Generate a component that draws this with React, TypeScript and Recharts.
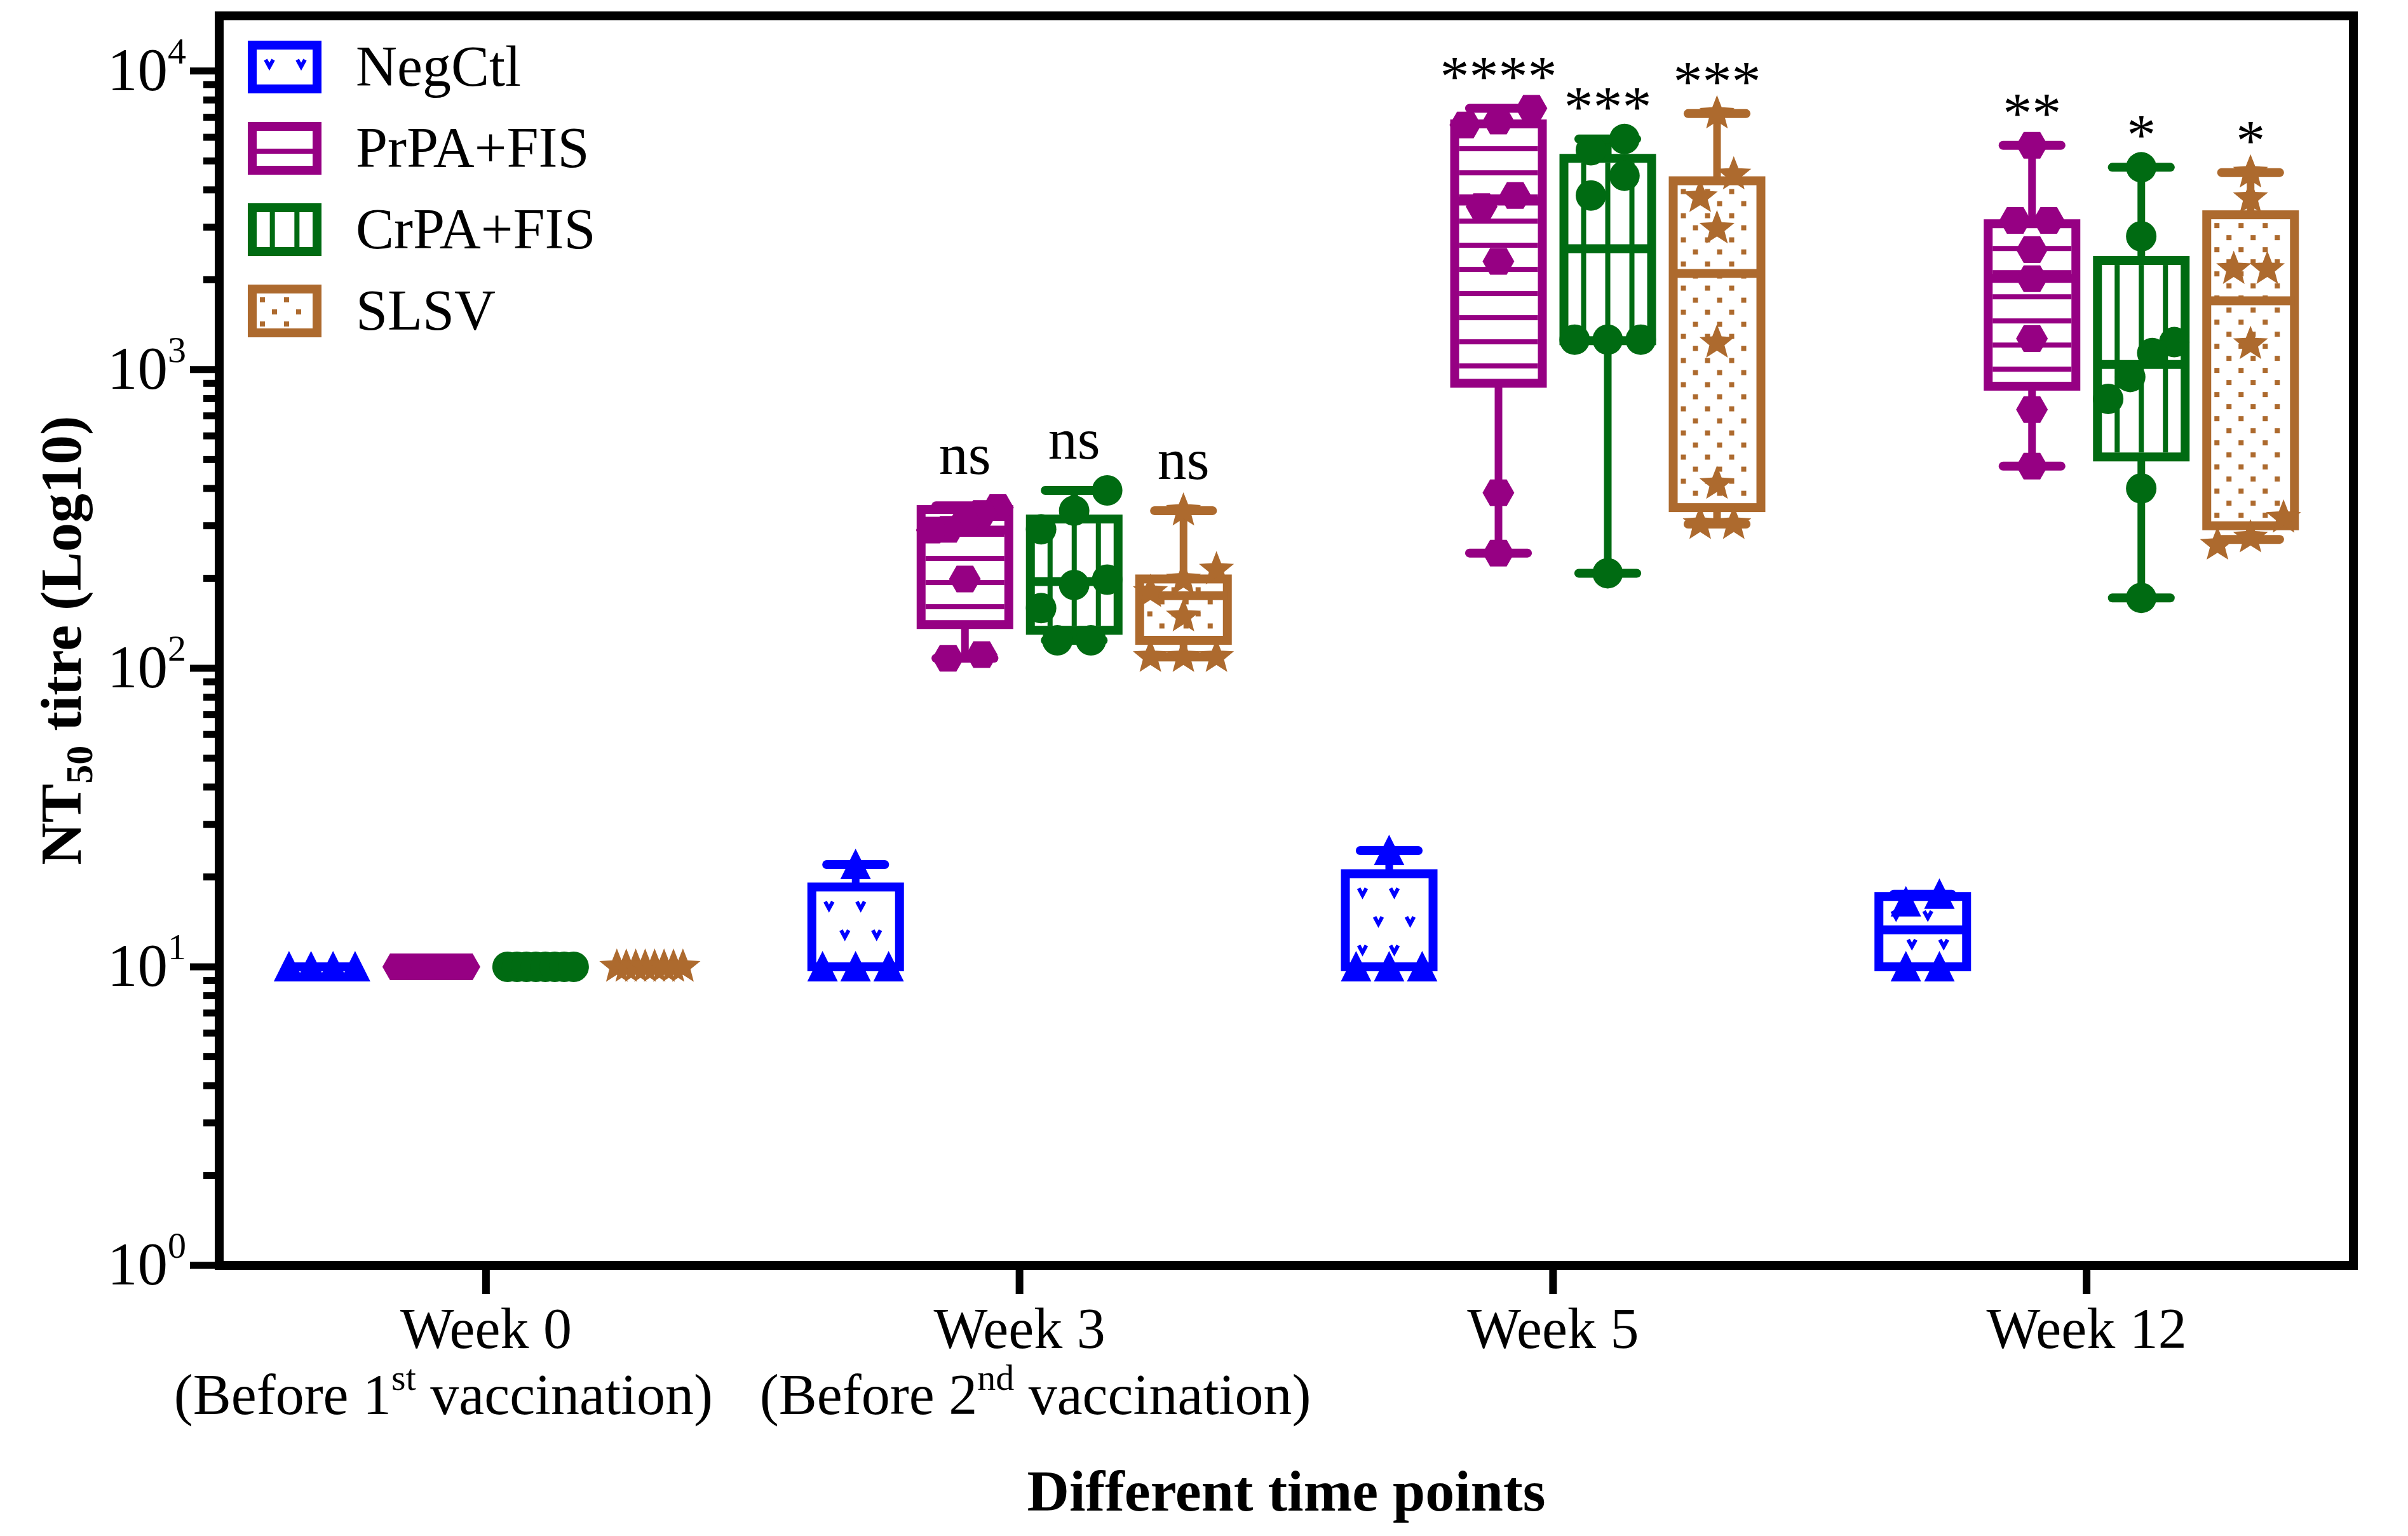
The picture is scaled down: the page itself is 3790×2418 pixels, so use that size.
import { ComposedChart, Bar, Scatter, XAxis, YAxis, Legend, ReferenceArea } from "recharts";

/* ---------- values ---------- */

const weeks = ["Week 0", "Week 3", "Week 5", "Week 12"];
const doseNo = ["1", "2", "", ""];
const doseSuffix = ["st", "nd", "", ""];

const groupNames = ["NegCtl", "PrPA+FIS", "CrPA+FIS", "SLSV"];

// per week: [min, Q1, median, Q3, max]
const negCtlBox = [
  [10, 10, 10, 10, 10],
  [10, 10, 10, 18.5, 22],
  [10, 10, 10, 20.5, 24.5],
  [10, 10, 13.3, 17.2, 17.5],
];
const prpaBox = [
  [10, 10, 10, 10, 10],
  [108, 140, 290, 340, 350],
  [243, 900, 3670, 6650, 7500],
  [475, 880, 2020, 3080, 5640],
];
const crpaBox = [
  [10, 10, 10, 10, 10],
  [124, 134, 195, 316, 394],
  [208, 1250, 2540, 5100, 5920],
  [172, 510, 1040, 2320, 4760],
];
const slsvBox = [
  [10, 10, 10, 10, 10],
  [109, 124, 175, 199, 337],
  [304, 345, 2100, 4290, 7200],
  [270, 300, 1700, 3300, 4570],
];

// individual animals per week
const negCtlPts = [
  [10, 10, 10, 10],
  [10, 10, 10, 22],
  [10, 10, 10, 24.5],
  [10, 10, 16.5, 17.5],
];
const prpaPts = [
  [10, 10, 10, 10, 10, 10, 10, 10],
  [345, 330, 310, 292, 290, 199, 111, 108],
  [7500, 6800, 6600, 3830, 3515, 2305, 387, 243],
  [5640, 3160, 3160, 2523, 2016, 1270, 735, 475],
];
const crpaPts = [
  [10, 10, 10, 10, 10, 10, 10, 10],
  [394, 337, 292, 198, 190, 159, 124, 124],
  [5920, 5430, 4460, 3830, 1260, 1260, 1260, 208],
  [4760, 2795, 1236, 1136, 945, 798, 400, 172],
];
const slsvPts = [
  [10, 10, 10, 10, 10, 10, 10, 10],
  [337, 214, 198, 180, 149, 109, 109, 109],
  [7200, 4500, 3780, 2967, 1230, 414, 304, 304],
  [4570, 3750, 2172, 2172, 1217, 319, 274, 259],
];

// significance vs NegCtl
const negCtlSig = ["", "", "", ""];
const prpaSig = ["", "ns", "****", "**"];
const crpaSig = ["", "ns", "***", "*"];
const slsvSig = ["", "ns", "***", "*"];

const yMajor = [1, 10, 100, 1000, 10000];
const yDomain = [1, 15300];

/* ---------- styling ---------- */

const FONT = "'Liberation Serif', 'Times New Roman', serif";
const BOX_W = 152;
const BOX_GAP = 20;
const STROKE = 14;
const AXIS_W = 14;
const MARK_W = 48;
const noteDx = [-67, 25, 0, 0];

const groups = [
  { name: groupNames[0], color: "#0000ff", marker: "triangle", hatch: "ticks", box: negCtlBox, pts: negCtlPts, sig: negCtlSig },
  { name: groupNames[1], color: "#960083", marker: "hexagon", hatch: "hlines", box: prpaBox, pts: prpaPts, sig: prpaSig },
  { name: groupNames[2], color: "#006b12", marker: "circle", hatch: "vlines", box: crpaBox, pts: crpaPts, sig: crpaSig },
  { name: groupNames[3], color: "#ad6a2e", marker: "star", hatch: "dots", box: slsvBox, pts: slsvPts, sig: slsvSig },
];

const rows = weeks.map((week, i) => ({ week, i }));

const yTicks = yMajor.flatMap((d) =>
  d === 10000 ? [d] : [1, 2, 3, 4, 5, 6, 7, 8, 9].map((m) => m * d)
);

// horizontal offset of each box inside its week, same as recharts' grouped bar layout
const shift = (gi: number) => (gi - 1.5) * (BOX_W + BOX_GAP);

// stat accessor that tolerates rows recharts may probe without an index
const stat = (g: any, r: any, k: number) => {
  const b = r && g.box[r.i];
  return b ? b[k] : undefined;
};

// fan out points that would sit on top of each other (like a column scatter)
function spread(values: number[]) {
  const order = values.map((v, k) => ({ v, k })).sort((a, b) => a.v - b.v);
  const out = new Array(values.length).fill(0);
  let start = 0;
  for (let j = 1; j <= order.length; j++) {
    const gap = j < order.length ? Math.log10(order[j].v) - Math.log10(order[j - 1].v) : Infinity;
    if (gap > 0.08) {
      const n = j - start;
      const step = n > 1 ? Math.min(MARK_W * 1.1, (BOX_W - MARK_W) / (n - 1)) : 0;
      for (let m = start; m < j; m++) out[order[m].k] = (m - start - (n - 1) / 2) * step;
      start = j;
    }
  }
  return out;
}

const pointRows = (g: any) =>
  weeks.flatMap((_, w) => {
    const dx = spread(g.pts[w]);
    return g.pts[w].map((v: number, k: number) => ({ x: w, y: v, dx: dx[k] }));
  });

/* ---------- drawing helpers ---------- */

function hatch(kind: string, x: number, y: number, w: number, h: number, color: string) {
  const out: any[] = [];
  if (!(w > 0) || !(h > 0)) return out;
  if (kind === "hlines") {
    for (let yy = y + 32; yy < y + h - 6; yy += 38)
      out.push(<rect key={"h" + yy} x={x} y={yy - 4} width={w} height={8} fill={color} />);
  } else if (kind === "vlines") {
    const n = Math.round((w + 2 * STROKE) / 38);
    for (let k = 1; k < n; k++)
      out.push(<rect key={"v" + k} x={x - STROKE + ((w + 2 * STROKE) * k) / n - 4} y={y} width={8} height={h} fill={color} />);
  } else if (kind === "dots") {
    for (let r = 0; 6 + r * 19 + 8 < h; r++)
      for (let c = 0; 6 + c * 19 + 8 < w; c++)
        if ((r + c) % 2 === 0)
          out.push(<rect key={`d${r}-${c}`} x={x + 5 + c * 19} y={y + 6 + r * 19} width={8} height={8} fill={color} />);
  } else if (kind === "ticks") {
    for (let r = 0; 22 + r * 45 < h - 8; r++)
      for (let c = 0; 20 + c * 50 + (r % 2) * 25 < w - 8; c++) {
        const cx = x + 20 + c * 50 + (r % 2) * 25;
        const cy = y + 22 + r * 45;
        out.push(
          <path key={`t${r}-${c}`} d={`M${cx - 6} ${cy - 6} L${cx} ${cy + 5} L${cx + 6} ${cy - 6}`} stroke={color} strokeWidth={6} fill="none" />
        );
      }
  }
  return out;
}

function marker(kind: string, cx: number, cy: number, color: string) {
  if (!isFinite(cx) || !isFinite(cy)) return <g />;
  if (kind === "triangle")
    return <polygon points={`${cx},${cy - 25} ${cx - 24},${cy + 23} ${cx + 24},${cy + 23}`} fill={color} />;
  if (kind === "hexagon")
    return (
      <polygon
        points={`${cx - 25},${cy} ${cx - 13},${cy - 21} ${cx + 13},${cy - 21} ${cx + 25},${cy} ${cx + 13},${cy + 21} ${cx - 13},${cy + 21}`}
        fill={color}
      />
    );
  if (kind === "circle") return <circle cx={cx} cy={cy} r={24} fill={color} />;
  const pts: string[] = [];
  for (let k = 0; k < 10; k++) {
    const a = -Math.PI / 2 + (k * Math.PI) / 5;
    const r = k % 2 === 0 ? 29 : 12.5;
    pts.push(`${cx + r * Math.cos(a)},${cy + r * Math.sin(a)}`);
  }
  return <polygon points={pts.join(" ")} fill={color} />;
}

function Whisker({ x, y, width, height, payload, g }: any) {
  if (!payload || !isFinite(y) || !isFinite(height)) return <g />;
  const cx = x + width / 2;
  const top = Math.min(y, y + height);
  const bot = Math.max(y, y + height);
  const half = width * 0.3;
  const sig = g.sig[payload.i];
  return (
    <g>
      <line x1={cx} x2={cx} y1={top} y2={bot} stroke={g.color} strokeWidth={12} />
      <line x1={cx - half} x2={cx + half} y1={top} y2={top} stroke={g.color} strokeWidth={14} strokeLinecap="round" />
      <line x1={cx - half} x2={cx + half} y1={bot} y2={bot} stroke={g.color} strokeWidth={14} strokeLinecap="round" />
      {sig && (
        <text x={cx} y={top - (sig[0] === "*" ? 20 : 50)} textAnchor="middle" fontSize={92} fontFamily={FONT} fill="#000">
          {sig}
        </text>
      )}
    </g>
  );
}

function BoxShape({ x, y, width, height, g }: any) {
  const top = Math.min(y, y + height);
  const h = Math.abs(height);
  if (!isFinite(top) || !(h >= 1)) return <g />;
  return (
    <g>
      <rect x={x + STROKE / 2} y={top} width={width - STROKE} height={h} fill="#fff" stroke={g.color} strokeWidth={STROKE} />
      {hatch(g.hatch, x + STROKE, top + STROKE / 2, width - 2 * STROKE, h - STROKE, g.color)}
    </g>
  );
}

function MedianShape({ x, y, width, payload, g }: any) {
  if (!payload || !isFinite(y)) return <g />;
  const b = g.box[payload.i];
  if (!b || b[3] - b[1] <= 0) return <g />;
  return <line x1={x + STROKE / 2} x2={x + width - STROKE / 2} y1={y} y2={y} stroke={g.color} strokeWidth={STROKE} />;
}

function YTick({ x, y, payload }: any) {
  const v = payload.value;
  const major = yMajor.includes(v);
  return (
    <g>
      <line x1={x} x2={x - (major ? 46 : 25)} y1={y} y2={y} stroke="#000" strokeWidth={11} />
      {major && (
        <text x={x - 52} y={y + 30} textAnchor="end" fontSize={95} fontFamily={FONT} fill="#000">
          10
          <tspan dy={-42} fontSize={58}>
            {Math.round(Math.log10(v))}
          </tspan>
        </text>
      )}
    </g>
  );
}

function WeekTick({ x, y, payload }: any) {
  const i = weeks.indexOf(payload.value);
  return (
    <g fontFamily={FONT} fontSize={90} fill="#000">
      <text x={x} y={y + 85} textAnchor="middle">
        {payload.value}
      </text>
      {doseNo[i] && (
        <text x={x + noteDx[i]} y={y + 189} textAnchor="middle">
          (Before {doseNo[i]}
          <tspan dy={-38} fontSize={58}>
            {doseSuffix[i]}
          </tspan>
          <tspan dy={38}> vaccination)</tspan>
        </text>
      )}
    </g>
  );
}

function YTitle() {
  return (
    <text
      x={127}
      y={1008}
      transform="rotate(-90, 127, 1008)"
      textAnchor="middle"
      fontSize={92}
      fontWeight="bold"
      fontFamily={FONT}
      fill="#000"
    >
      NT
      <tspan dy={18} fontSize={60}>
        50
      </tspan>
      <tspan dy={-18}> titre (Log10)</tspan>
    </text>
  );
}

function LegendBox() {
  return (
    <svg width={720} height={520} style={{ fontFamily: FONT }}>
      {groups.map((g, k) => {
        const cy = 65 + k * 128;
        const top = cy - 41;
        return (
          <g key={g.name}>
            <rect x={12} y={top + 7} width={102} height={69} fill="#fff" stroke={g.color} strokeWidth={STROKE} />
            {hatch(g.hatch, 19, top + 14, 88, 55, g.color)}
            <text x={175} y={cy + 30} fontSize={90} fill="#000">
              {g.name}
            </text>
          </g>
        );
      })}
    </svg>
  );
}

export default function App() {
  return (
    <div style={{ width: 3790, height: 2418, background: "#fff", fontFamily: FONT }}>
      <style>{"body{margin:0}"}</style>
      <ComposedChart
        width={3790}
        height={2418}
        data={rows}
        margin={{ top: 25, right: 86, bottom: 26, left: 0 }}
        barGap={BOX_GAP}
      >
        <XAxis
          xAxisId="week"
          dataKey="week"
          type="category"
          height={400}
          interval={0}
          tickSize={45}
          tickMargin={0}
          axisLine={{ stroke: "#000", strokeWidth: AXIS_W }}
          tickLine={{ stroke: "#000", strokeWidth: 12 }}
          tick={<WeekTick />}
          label={{
            value: "Different time points",
            position: "insideBottom",
            offset: 14,
            fontSize: 92,
            fontWeight: "bold",
            fill: "#000",
            fontFamily: FONT,
          }}
        />
        <XAxis xAxisId="whisker" dataKey="week" type="category" height={0} hide />
        <XAxis xAxisId="median" dataKey="week" type="category" height={0} hide />
        <XAxis xAxisId="pts" dataKey="x" type="number" domain={[-0.5, 3.5]} height={0} hide />
        <YAxis
          scale="log"
          domain={yDomain}
          allowDataOverflow
          ticks={yTicks}
          interval={0}
          width={345}
          tickSize={0}
          tickMargin={0}
          tickLine={false}
          axisLine={{ stroke: "#000", strokeWidth: AXIS_W }}
          tick={<YTick />}
          label={<YTitle />}
        />
        {/* same log scale for the individual points, kept on its own id */}
        <YAxis yAxisId="ptsY" scale="log" domain={yDomain} allowDataOverflow width={0} hide />

        <ReferenceArea xAxisId="week" y1={yDomain[0]} y2={yDomain[1]} fill="none" stroke="#000" strokeWidth={AXIS_W} ifOverflow="visible" />

        <Legend
          content={<LegendBox />}
          layout="vertical"
          align="center"
          verticalAlign="middle"
          wrapperStyle={{ left: 385, top: 40, width: 720, height: 520 }}
        />

        {groups.map((g) => (
          <Bar
            key={"whisker-" + g.name}
            xAxisId="whisker"
            dataKey={(r: any) => {
              const lo = stat(g, r, 0);
              return lo === undefined ? undefined : [lo, stat(g, r, 4)];
            }}
            barSize={BOX_W}
            isAnimationActive={false}
            shape={(p: any) => <Whisker {...p} g={g} />}
          />
        ))}
        {groups.map((g) => (
          <Bar
            key={"box-" + g.name}
            xAxisId="week"
            dataKey={(r: any) => {
              const lo = stat(g, r, 1);
              return lo === undefined ? undefined : [lo, stat(g, r, 3)];
            }}
            barSize={BOX_W}
            isAnimationActive={false}
            shape={(p: any) => <BoxShape {...p} g={g} />}
          />
        ))}
        {groups.map((g) => (
          <Bar
            key={"median-" + g.name}
            xAxisId="median"
            dataKey={(r: any) => {
              const m = stat(g, r, 2);
              return m === undefined ? undefined : [m, m];
            }}
            barSize={BOX_W}
            isAnimationActive={false}
            shape={(p: any) => <MedianShape {...p} g={g} />}
          />
        ))}
        {groups.map((g, gi) => (
          <Scatter
            key={"pts-" + g.name}
            xAxisId="pts"
            yAxisId="ptsY"
            data={pointRows(g)}
            dataKey="y"
            isAnimationActive={false}
            shape={(p: any) => marker(g.marker, p.cx + shift(gi) + ((p.payload && p.payload.dx) || 0), p.cy, g.color)}
          />
        ))}
      </ComposedChart>
    </div>
  );
}
